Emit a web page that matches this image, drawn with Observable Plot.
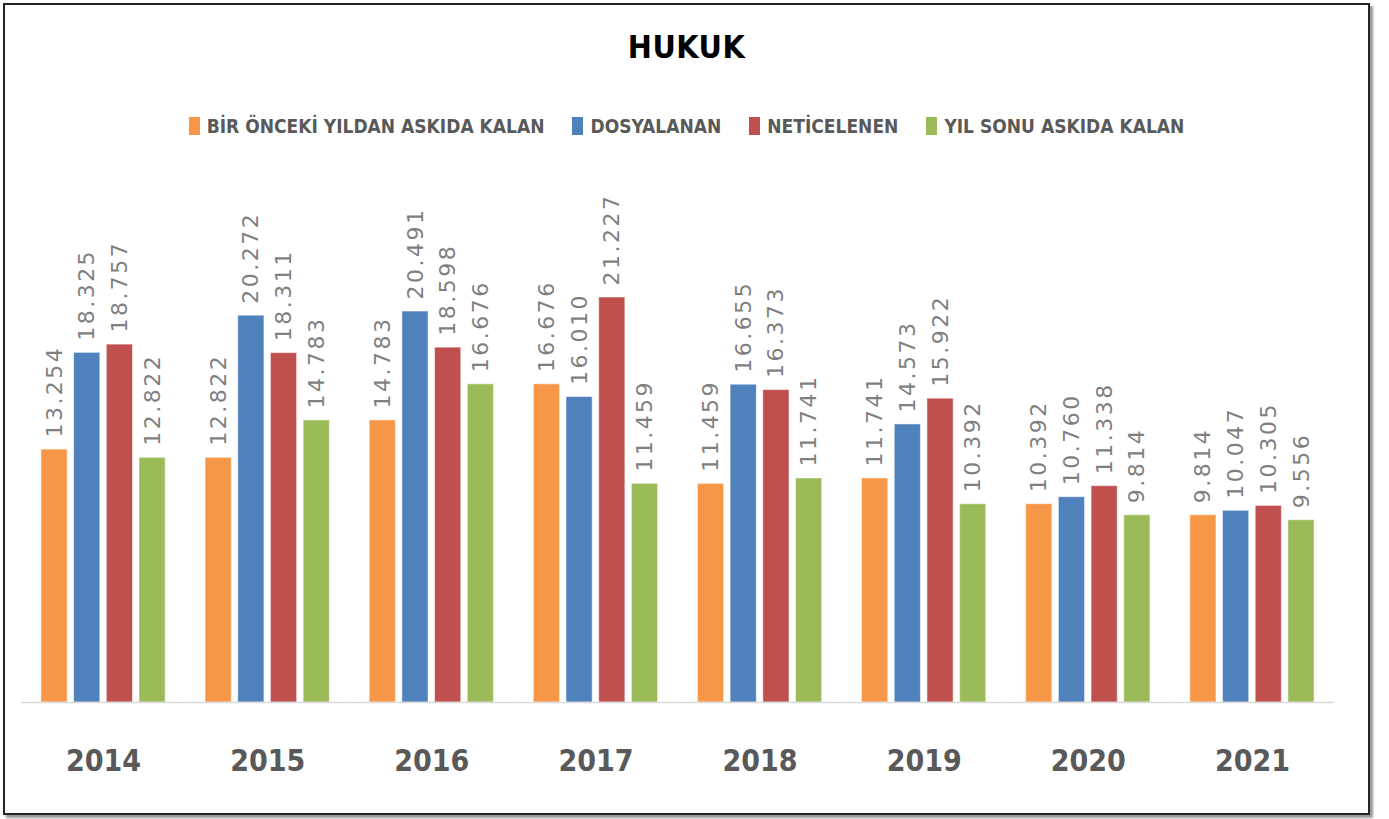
<!DOCTYPE html>
<html>
<head>
<meta charset="utf-8">
<script src="https://cdn.jsdelivr.net/npm/d3@7"></script>
<script src="https://cdn.jsdelivr.net/npm/@observablehq/plot@0.6"></script>
<style>
  body { margin: 0; background: #fff; }
  #frame {
    position: absolute; left: 3px; top: 3px; width: 1363px; height: 808px;
    border: 2px solid #262626; box-shadow: 3px 3px 2px #9a9a9a; background: #fff; overflow: hidden;
  }
  #title {
    position: absolute; left: 0; right: 0; top: 22px; line-height: 40px; text-align: center;
    font-family: "DejaVu Sans Condensed", "DejaVu Sans", sans-serif; font-weight: bold; font-size: 32px;
    letter-spacing: 0.5px; color: #000;
  }
  #legend {
    position: absolute; left: 0; right: 0; top: 106px; line-height: 30px; display: flex; justify-content: center;
    font-family: "DejaVu Sans Condensed", "DejaVu Sans", sans-serif; font-weight: bold; font-size: 19px; color: #595959;
  }
  #legend .item { display: flex; align-items: center; margin: 0 14px; }
  #legend .sw { width: 11px; height: 18px; margin-right: 7px; }
  #chart { position: absolute; left: 0; top: 155px; }
  #chart g[aria-label="text"] text { letter-spacing: 2.5px; }
</style>
</head>
<body>
<div id="frame">
  <div id="title">HUKUK</div>
  <div id="legend"></div>
  <div id="chart"></div>
</div>
<script>
const years = ["2014", "2015", "2016", "2017", "2018", "2019", "2020", "2021"];
const seriesNames = ["BİR ÖNCEKİ YILDAN ASKIDA KALAN", "DOSYALANAN", "NETİCELENEN", "YIL SONU ASKIDA KALAN"];
const colors = ["#F79646", "#4F81BD", "#C0504D", "#9BBB59"];
const oncekiYil = [13.254, 12.822, 14.783, 16.676, 11.459, 11.741, 10.392, 9.814];
const dosyalanan = [18.325, 20.272, 20.491, 16.010, 16.655, 14.573, 10.760, 10.047];
const neticelenen = [18.757, 18.311, 18.598, 21.227, 16.373, 15.922, 11.338, 10.305];
const yilSonu = [12.822, 14.783, 16.676, 11.459, 11.741, 10.392, 9.814, 9.556];

const seriesValues = [oncekiYil, dosyalanan, neticelenen, yilSonu];
const data = [];
years.forEach((y, i) => seriesNames.forEach((s, j) => data.push({year: y, series: s, value: seriesValues[j][i]})));
const fmt = d3.format(".3f");

// legend
const legend = document.getElementById("legend");
seriesNames.forEach((s, j) => {
  const it = document.createElement("div"); it.className = "item";
  const sw = document.createElement("span"); sw.className = "sw"; sw.style.background = colors[j];
  const tx = document.createElement("span"); tx.textContent = s;
  it.appendChild(sw); it.appendChild(tx); legend.appendChild(it);
});

const chart = Plot.plot({
  width: 1363,
  height: 653,
  marginTop: 65,
  marginBottom: 111,
  marginLeft: 16,
  marginRight: 34,
  style: {background: "transparent"},
  fx: {domain: years, padding: 0, round: false, label: null},
  x: {domain: seriesNames, paddingInner: 0.2, paddingOuter: 0.61, round: false, axis: null},
  y: {domain: [0, 25], axis: null},
  color: {domain: seriesNames, range: colors},
  marks: [
    Plot.barY(data, {fx: "year", x: "series", y: "value", fill: "series", stroke: "#fff", strokeOpacity: 0.5, strokeWidth: 1}),
    Plot.ruleY([0], {stroke: "#d9d9d9", strokeWidth: 1.5}),
    Plot.text(data, {fx: "year", x: "series", y: "value", text: d => fmt(d.value), rotate: -90,
      textAnchor: "start", lineAnchor: "middle", dy: -12, fill: "#7f7f7f", fontSize: 22,
      fontFamily: "DejaVu Sans, sans-serif"}),
    Plot.axisFx({anchor: "bottom", tickSize: 0, tickPadding: 47, fontSize: 30, fontWeight: "bold",
      fill: "#595959", fontFamily: "DejaVu Sans Condensed, DejaVu Sans, sans-serif", label: null})
  ]
});
document.getElementById("chart").appendChild(chart);
</script>
</body>
</html>
